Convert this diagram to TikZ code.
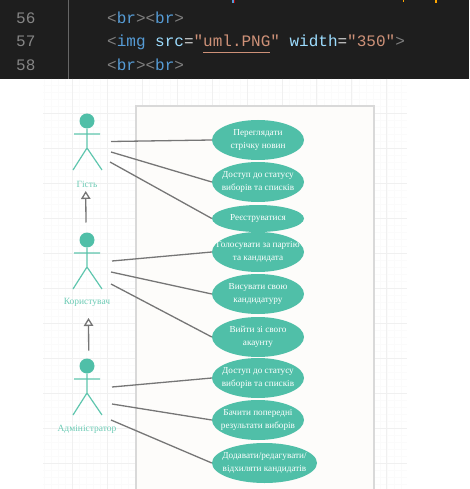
\documentclass[tikz,border=0pt]{standalone}
\usepackage{fontspec}
\setmainfont{Liberation Serif}
\newfontfamily\codefont{Liberation Mono}
\usetikzlibrary{arrows.meta,shapes.geometric}

\definecolor{usecase}{HTML}{50BFA8}
\definecolor{actorline}{HTML}{5FC6AE}
\definecolor{actorlabel}{HTML}{6CCBB5}
\definecolor{assocline}{HTML}{767676}
\definecolor{editorbg}{HTML}{1E1E1E}
\definecolor{gutter}{HTML}{858585}
\definecolor{bracket}{HTML}{808080}
\definecolor{tagname}{HTML}{569CD6}
\definecolor{attrname}{HTML}{9CDCFE}
\definecolor{strval}{HTML}{CE9178}
\definecolor{plaintxt}{HTML}{D4D4D4}
\definecolor{sysbox}{HTML}{FDFCFA}

\newcommand\br{\textcolor{bracket}{<}\textcolor{tagname}{br}\textcolor{bracket}{>}}

\tikzset{
  case/.style={ellipse,fill=usecase,text=white,inner xsep=-25pt,inner ysep=-6pt,minimum width=92pt,
    minimum height=40pt,align=center,font=\fontsize{9.2}{13}\selectfont},
  actorname/.style={text=actorlabel,inner sep=0pt,font=\fontsize{9.5}{12}\selectfont},
  assoc/.style={draw=assocline,line width=1.3pt},
  inherit/.style={draw=assocline,line width=1.3pt,-{Triangle[open,length=8pt,width=9.5pt,fill=white]}},
  codeline/.style={anchor=base west,inner sep=0pt,font=\codefont\fontsize{16}{16}\selectfont},
  lineno/.style={anchor=base west,inner sep=0pt,text=gutter,font=\codefont\fontsize{16}{16}\selectfont},
  actor/.pic={
    \node [circle,fill=usecase,inner sep=0pt,minimum size=15pt] (head) at (0,0) {};
    \draw [actorline,line width=1.2pt] (head) -- (0,27) (-13,13) -- (13,13)
      (-14,49) -- (0,27) -- (15,49);
  }
}

\begin{document}
\begin{tikzpicture}[x=1pt,y=-1pt]
  \useasboundingbox (0,0) rectangle (469,489);

  % editor strip
  \fill [editorbg] (0,0) rectangle (469,79);
  \draw [gutter!70!editorbg] (68,0) -- (68,79);
  \node [lineno] (n56) at (16,24) {56};
  \node [lineno] (n57) at (16,47) {57};
  \node [lineno] (n58) at (16,71) {58};
  \node [codeline] (c56) at (107,24) {\br\br};
  \node [codeline] (c57) at (107,47) {\textcolor{bracket}{<}\textcolor{tagname}{img}
    \textcolor{attrname}{src}\textcolor{plaintxt}{=}\textcolor{strval}{"uml.PNG"}
    \textcolor{attrname}{width}\textcolor{plaintxt}{=}\textcolor{strval}{"350"}\textcolor{bracket}{>}};
  \node [codeline] (c58) at (107,71) {\br\br};
  \draw [strval,line width=0.8pt] (203,52.5) -- (270,52.5);
  \fill [tagname] (232,0) rectangle (234,3);
  \fill [red!70!black] (234,0) rectangle (235,3);
  \fill [orange!70!yellow] (403,0) rectangle (404,2);
  \fill [orange!70!yellow] (435,0) rectangle (437,3);

  % grid
  \foreach \x in {44,51,...,407} \draw [black!1.5,line width=0.6pt] (\x,79) -- (\x,489);
  \foreach \y in {85,92,...,489} \draw [black!1.5,line width=0.6pt] (43,\y) -- (407,\y);
  \foreach \x in {72.5,107.4,142.3,177.2,212.1,247,281.9,316.8,351.7,386.6} \draw [black!6,line width=0.8pt] (\x,79) -- (\x,489);
  \foreach \y in {113,148,183,218,253,288,323,358,393,428,463} \draw [black!6,line width=0.8pt] (43,\y) -- (407,\y);

  % system box
  \draw [black!15,fill=sysbox,line width=1.4pt] (136,106) rectangle (374,492);

  % use cases
  \node [case] (watch)    at (258,140) {Переглядати\\стрічку новин};
  \node [case] (status)   at (258,182) {Доступ до статусу\\виборів та списків};
  \node [case,minimum height=27pt] (signup) at (258,218.5) {Реєструватися};
  \node [case] (vote)     at (258,252) {Голосувати за партію\\та кандидата};
  \node [case] (nominate) at (258,294) {Висувати свою\\кандидатуру};
  \node [case] (logout)   at (258,337) {Вийти зі свого\\акаунту};
  \node [case] (statusb)  at (258,378) {Доступ до статусу\\виборів та списків};
  \node [case] (results)  at (258,420) {Бачити попередні\\результати виборів};
  \node [case,minimum width=105pt] (manage) at (264.5,463) {Додавати/редагувати/\\відхиляти кандидатів};

  % actors
  \pic (guest) at (87,121) {actor};
  \pic (user)  at (87,240) {actor};
  \pic (admin) at (87,366) {actor};
  \node [actorname] (guestname) at (87,184) {Гість};
  \node [actorname] (username)  at (87,302) {Користувач};
  \node [actorname] (adminname) at (87,429) {Адміністратор};

  \coordinate (ga) at (111,141.5);
  \coordinate (gb) at (111,152);
  \coordinate (gc) at (110,162);
  \coordinate (ua) at (112,261);
  \coordinate (ub) at (111,272);
  \coordinate (uc) at (111,284);
  \coordinate (aa) at (112,387);
  \coordinate (ab) at (112,404);
  \coordinate (ac) at (111,420);
  \coordinate (up) at (86,222.5);
  \coordinate (upb) at (88.7,350.5);
  \coordinate (guesttip) at (85.7,191);
  \coordinate (usertip) at (88.5,318);

  \draw [assoc] (ga) -- (watch.west);
  \draw [assoc] (gb) -- (status.west);
  \draw [assoc] (gc) -- (signup.west);
  \draw [assoc] (ua) -- (vote.west);
  \draw [assoc] (ub) -- (nominate.west);
  \draw [assoc] (uc) -- (logout.west);
  \draw [assoc] (aa) -- (statusb.west);
  \draw [assoc] (ab) -- (results.west);
  \draw [assoc] (ac) -- (manage.west);

  \draw [inherit] (up) -- (guesttip);
  \draw [inherit] (upb) -- (usertip);
\end{tikzpicture}
\end{document}
